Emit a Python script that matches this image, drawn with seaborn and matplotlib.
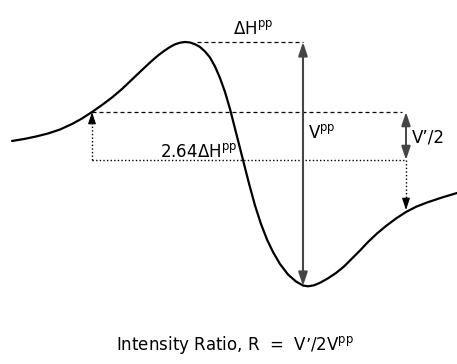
import matplotlib
matplotlib.use("Agg")
import matplotlib.pyplot as plt
import pandas as pd
import seaborn as sns

# First-derivative EPR absorption line: field offset from the line centre and
# signal measured from the baseline
field = [-230, -218, -206, -194, -182, -170, -160, -150, -140, -130, -120, -110,
         -100, -92, -84, -78, -72, -67, -62, -57, -52, -47, -42, -37, -32, -27,
         -22, -17, -12, -6, 1, 7, 13, 19, 25, 31, 38, 46, 54, 61, 66, 72, 78, 86,
         94, 102, 110, 118, 126, 135, 144, 154, 164, 174, 185, 200, 215]
signal = [19, 21, 23.5, 26.5, 30.5, 36, 41.5, 48, 55, 62.5, 71, 80.5,
          90, 97.5, 104.5, 109, 113, 115.7, 117.3, 118, 117.5, 115.8, 113, 108.5, 102.5, 93.5,
          82, 68, 51, 27.5, 0, -23.5, -45.5, -64, -79.5, -92, -104, -114.5, -121.5, -125.5, -126.3,
          -125.3, -122.8, -118.3, -113, -106.5, -98.5, -90.5, -82, -73.5, -66, -58.5, -52, -46.8,
          -42.5, -37.5, -33]

# Reference levels of the construction
peak_level = 118          # top of the derivative peak
trough_level = -126       # bottom of the trough
half_level = 48           # V'/2 level
left_pos, right_pos = -150, 164   # points separated by 2.64 ΔHpp
peak_pos, trough_pos = -57, 61

df = pd.DataFrame({"field": field, "signal": signal})

sns.set_theme(style="white")
plt.rcParams["font.family"] = ["DejaVu Sans"]
plt.rcParams["mathtext.fontset"] = "dejavusans"
plt.rcParams["text.color"] = "black"

fig = plt.figure(figsize=(4.57, 3.64), dpi=100)
ax = fig.add_axes([0, 0, 1, 1])
ax.set_xlim(-242, 215)
ax.set_ylim(-204, 160)
ax.axis("off")

sns.lineplot(data=df, x="field", y="signal", ax=ax, color="black", lw=1.6,
             sort=False, estimator=None)

dash = (0, (3.2, 2.4))
dot = (0, (1.0, 1.6))
grey = "#454545"
head = "head_width=0.3,head_length=0.9"

# peak level
ax.plot([peak_pos + 12, trough_pos], [peak_level, peak_level], color="black", lw=0.9, ls=dash)
# V'/2 level
ax.plot([left_pos, right_pos - 4], [half_level, half_level], color="black", lw=0.9, ls=dash)
# baseline
ax.plot([left_pos, right_pos], [0, 0], color="black", lw=1.0, ls=dot)

# Vpp double arrow
ax.annotate("", xy=(trough_pos, peak_level), xytext=(trough_pos, trough_level),
            arrowprops=dict(arrowstyle="<|-|>," + head, color=grey, lw=1.5,
                            mutation_scale=9, shrinkA=0, shrinkB=0))
# V'/2 double arrow
ax.annotate("", xy=(right_pos, half_level), xytext=(right_pos, 0),
            arrowprops=dict(arrowstyle="<|-|>," + head, color=grey, lw=1.4,
                            mutation_scale=9, shrinkA=0, shrinkB=0))

# dotted arrows from the baseline to the curve
ax.plot([left_pos, left_pos], [0, half_level - 6], color="black", lw=1.0, ls=dot)
ax.annotate("", xy=(left_pos, half_level), xytext=(left_pos, half_level - 9),
            arrowprops=dict(arrowstyle="-|>," + head, color="black", lw=0.8,
                            mutation_scale=8, shrinkA=0, shrinkB=0))
ax.plot([right_pos, right_pos], [0, -44], color="black", lw=1.0, ls=dot)
ax.annotate("", xy=(right_pos, -50), xytext=(right_pos, -41),
            arrowprops=dict(arrowstyle="-|>," + head, color="black", lw=0.8,
                            mutation_scale=8, shrinkA=0, shrinkB=0))

fs = 12
ax.text(11, 126, r"ΔH$^{\mathrm{pp}}$", fontsize=fs, ha="center", va="baseline")
ax.text(66, 22, r"V$^{\mathrm{pp}}$", fontsize=fs, ha="left", va="baseline")
ax.text(170, 18, "V’/2", fontsize=fs, ha="left", va="baseline")
ax.text(-82, 3, r"2.64ΔH$^{\mathrm{pp}}$", fontsize=fs, ha="left", va="baseline")
ax.text(-7, -190, r"Intensity Ratio, R  =  V’/2V$^{\mathrm{pp}}$", fontsize=fs,
        ha="center", va="baseline")

fig.savefig("out.png", dpi=100)
